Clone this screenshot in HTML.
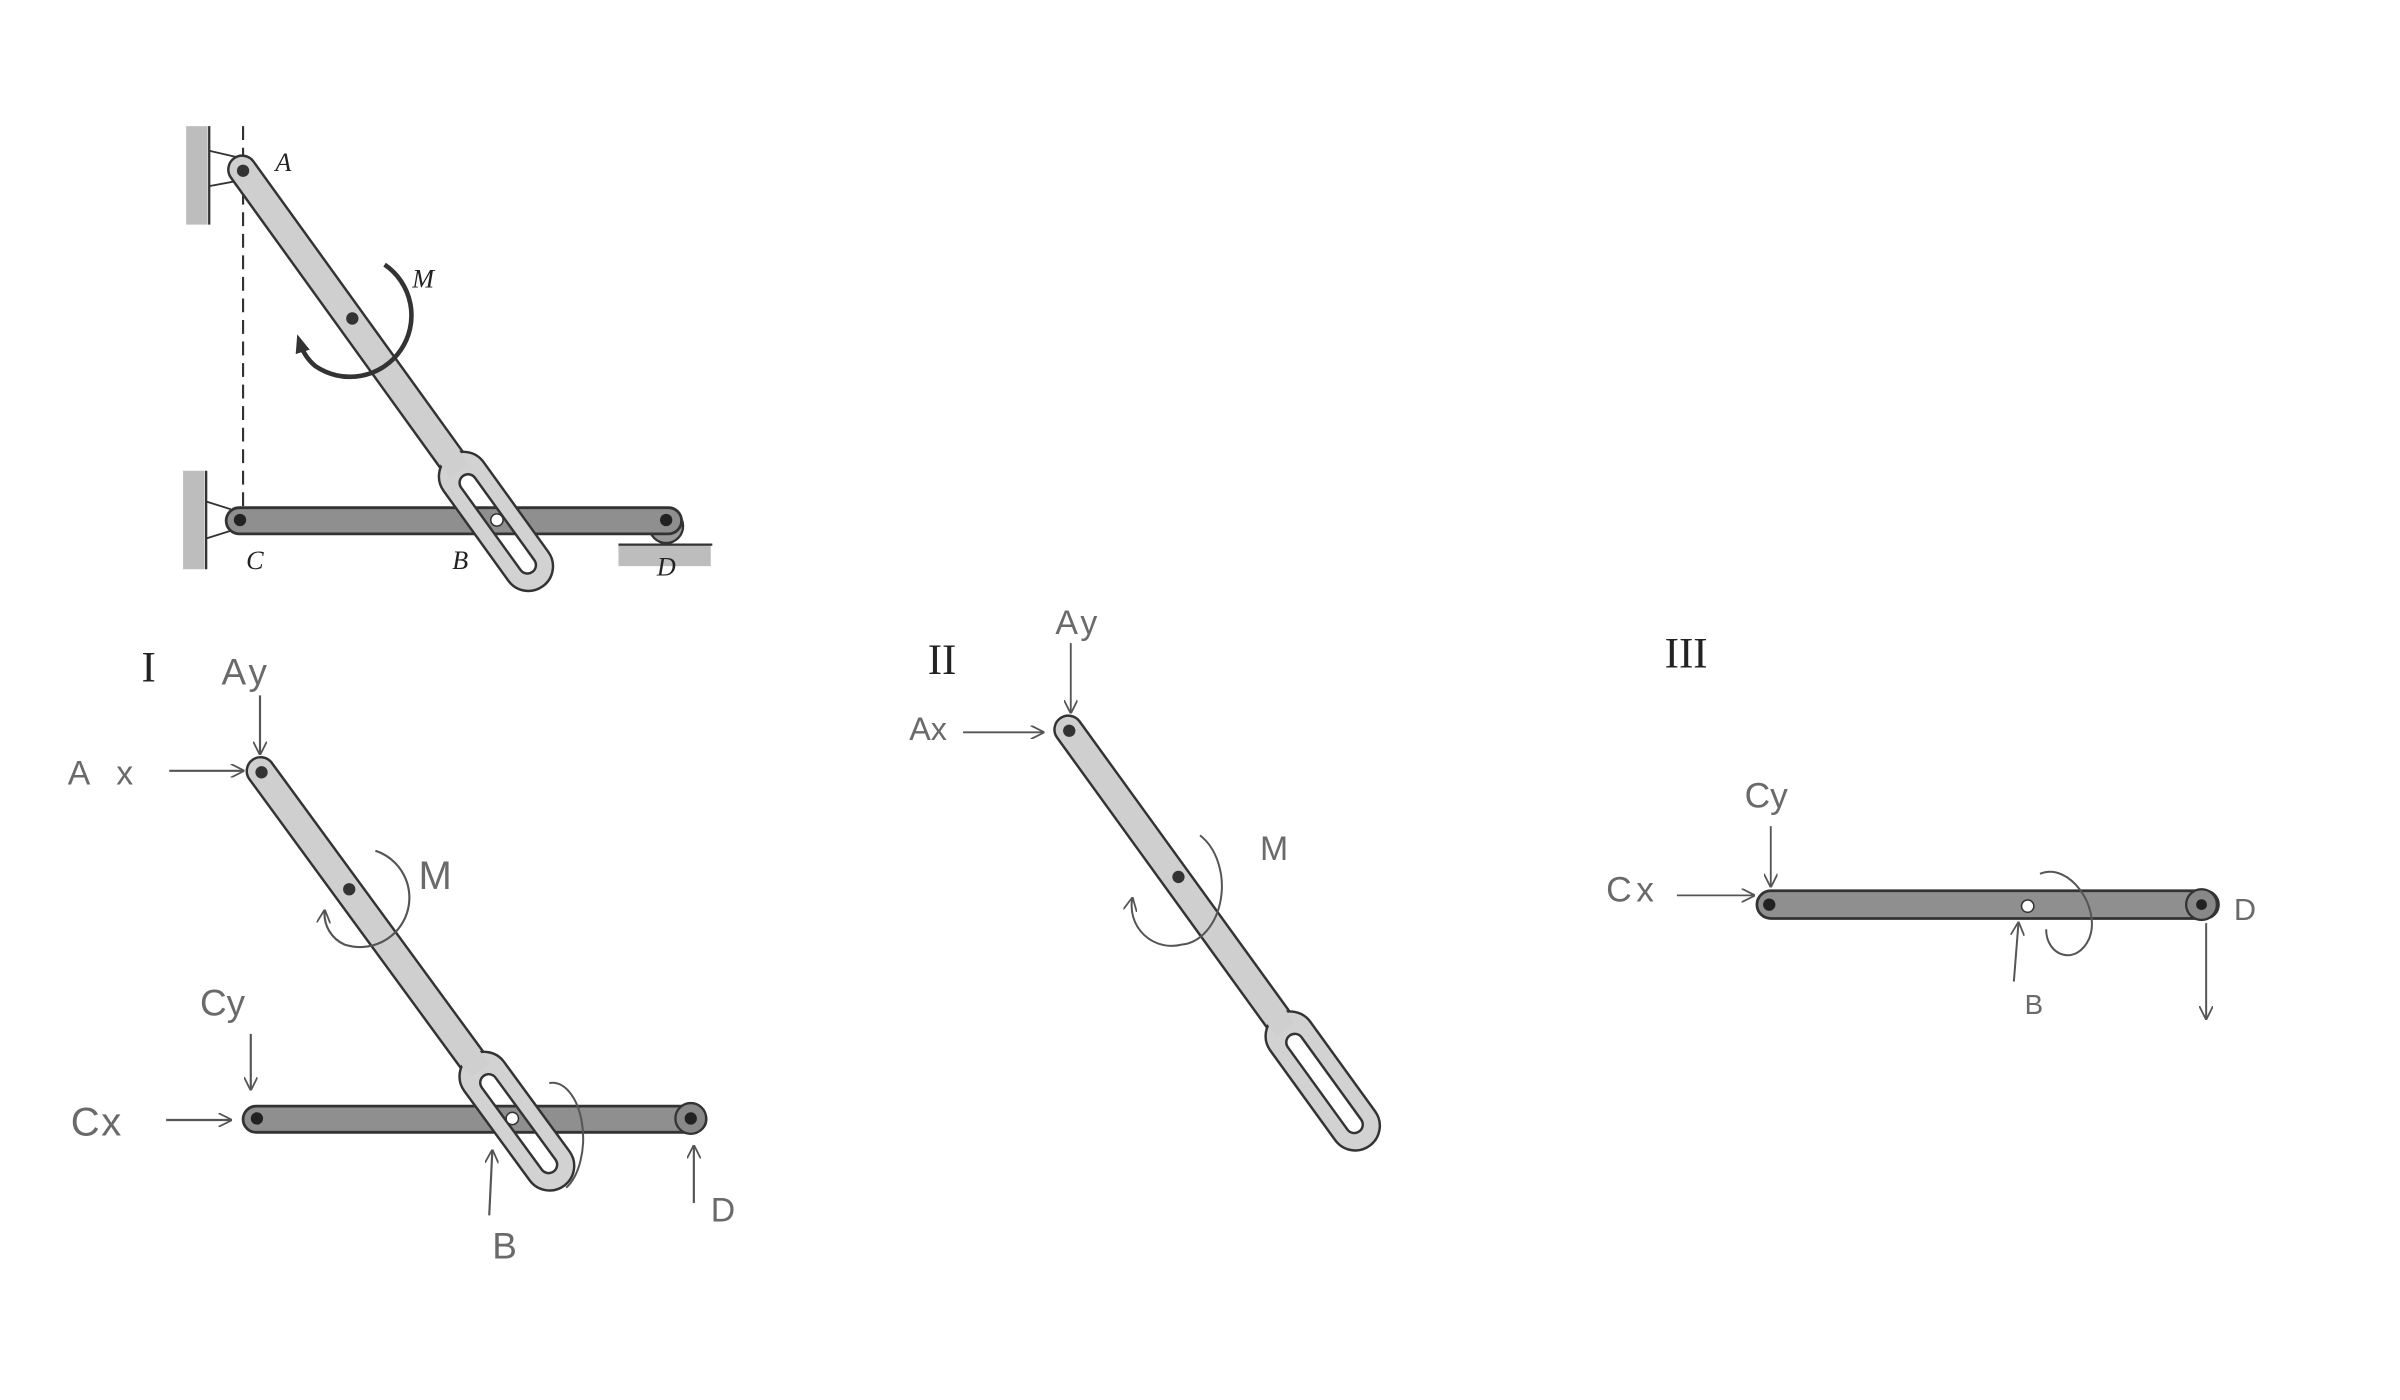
<!DOCTYPE html>
<html><head><meta charset="utf-8"><style>
html,body{margin:0;padding:0;background:#fff;}
svg{display:block;}
.h{font-family:"Liberation Sans",sans-serif;fill:#6a6a6a;font-weight:normal;}
.r{font-family:"Liberation Serif",serif;fill:#222;}
.it{font-family:"Liberation Serif",serif;font-style:italic;fill:#222;}
</style></head><body>
<svg width="2400" height="1400" viewBox="0 0 1560 910" preserveAspectRatio="none" xmlns="http://www.w3.org/2000/svg">
<defs>
<marker id="ah" viewBox="0 0 10 10" refX="9" refY="5" markerWidth="9" markerHeight="9" orient="auto" markerUnits="userSpaceOnUse">
<path d="M0,0 L10,5 L0,10" fill="none" stroke="#555" stroke-width="1.3"/></marker>
<marker id="ah2" viewBox="0 0 10 10" refX="5" refY="5" markerWidth="12" markerHeight="12" orient="auto" markerUnits="userSpaceOnUse">
<path d="M0,1 L10,5 L0,9 Z" fill="#333"/></marker>
<g id="link">
<rect x="-10" y="-9" width="250" height="18" rx="9" fill="#cfcfcf" stroke="#333" stroke-width="1.6"/>
<path d="M245,-16 H317 A16,16 0 0 1 317,16 H245 A16,16 0 0 1 245,-16 Z M250,-5.5 H316 A5.5,5.5 0 0 1 316,5.5 H250 A5.5,5.5 0 0 1 250,-5.5 Z" fill-rule="evenodd" fill="#d2d2d2" stroke="#333" stroke-width="1.6"/>
<rect x="222" y="-7.5" width="18" height="15" fill="#cfcfcf"/>
<circle cx="0" cy="0" r="4" fill="#333"/>
</g>
</defs>

<!-- ===== Top original figure ===== -->
<rect x="121" y="82" width="14" height="64" fill="#bdbdbd"/>
<line x1="136" y1="82" x2="136" y2="146" stroke="#333" stroke-width="1.5"/>
<rect x="119" y="306" width="14" height="64" fill="#bdbdbd"/>
<line x1="134" y1="306" x2="134" y2="370" stroke="#333" stroke-width="1.5"/>
<polyline points="136,98 162,104" stroke="#333" fill="none" stroke-width="1.2"/>
<polyline points="136,121 152,118" stroke="#333" fill="none" stroke-width="1.2"/>
<polyline points="134,326 150,331" stroke="#333" fill="none" stroke-width="1.2"/>
<polyline points="134,350 150,345" stroke="#333" fill="none" stroke-width="1.2"/>
<line x1="158" y1="82" x2="158" y2="330" stroke="#333" stroke-width="1.4" stroke-dasharray="9,5"/>
<rect x="402" y="354" width="60" height="14" fill="#bdbdbd"/>
<line x1="402" y1="354" x2="463" y2="354" stroke="#333" stroke-width="1.5"/>
<circle cx="433" cy="342" r="11" fill="#9a9a9a" stroke="#333" stroke-width="1.5"/>
<rect x="147" y="330" width="296" height="17" rx="8.5" fill="#8f8f8f" stroke="#333" stroke-width="1.8"/>
<circle cx="156" cy="338" r="4" fill="#222"/><circle cx="433" cy="338" r="4" fill="#222"/>
<use href="#link" transform="translate(158,111) rotate(54.2)"/>
<circle cx="229" cy="207" r="4" fill="#333"/>
<circle cx="323" cy="338" r="4" fill="#fff" stroke="#333"/>
<path d="M250,172 A32,32 0 0 1 205,238 A32,32 0 0 1 195,223" fill="none" stroke="#333" stroke-width="3" marker-end="url(#ah2)"/>
<text class="it" x="179" y="111" font-size="17">A</text>
<text class="it" x="268" y="187" font-size="17">M</text>
<text class="it" x="160" y="370" font-size="17">C</text>
<text class="it" x="294" y="370" font-size="17">B</text>
<text class="it" x="427" y="374" font-size="17">D</text>

<!-- ===== I ===== -->
<text class="r" x="92" y="443" font-size="28">I</text>
<text class="h" x="144" y="445" font-size="24" letter-spacing="2">Ay</text>
<line x1="169" y1="452" x2="169" y2="490" stroke="#555" stroke-width="1.4" marker-end="url(#ah)"/>
<text class="h" x="44" y="510" font-size="22" letter-spacing="6">A x</text>
<line x1="110" y1="501" x2="158" y2="501" stroke="#555" stroke-width="1.4" marker-end="url(#ah)"/>
<rect x="158" y="719" width="301" height="17" rx="8.5" fill="#8f8f8f" stroke="#333" stroke-width="1.8"/>
<circle cx="449" cy="727" r="10" fill="#888" stroke="#333" stroke-width="1.5"/>
<circle cx="167" cy="727" r="4" fill="#222"/><circle cx="449" cy="727" r="4" fill="#222"/>
<use href="#link" transform="translate(170,502) rotate(53.8)"/>
<circle cx="227" cy="578" r="4" fill="#333"/>
<circle cx="333" cy="727" r="4" fill="#fff" stroke="#333"/>
<path d="M244,553 A30,30 0 0 1 224,614 A22,22 0 0 1 211,592" fill="none" stroke="#555" stroke-width="1.4" marker-end="url(#ah)"/>
<text class="h" x="272" y="578" font-size="26">M</text>
<text class="h" x="130" y="660" font-size="24">Cy</text>
<line x1="163" y1="672" x2="163" y2="708" stroke="#555" stroke-width="1.4" marker-end="url(#ah)"/>
<text class="h" x="46" y="738" font-size="26" letter-spacing="1">Cx</text>
<line x1="108" y1="728" x2="150" y2="728" stroke="#555" stroke-width="1.4" marker-end="url(#ah)"/>
<path d="M357,704 A20,36 0 0 1 368,772" fill="none" stroke="#555" stroke-width="1.3"/>
<line x1="318" y1="790" x2="320" y2="748" stroke="#555" stroke-width="1.4" marker-end="url(#ah)"/>
<text class="h" x="320" y="818" font-size="24">B</text>
<line x1="451" y1="782" x2="451" y2="745" stroke="#555" stroke-width="1.4" marker-end="url(#ah)"/>
<text class="h" x="462" y="794" font-size="22">D</text>

<!-- ===== II ===== -->
<text class="r" x="603" y="438" font-size="28">II</text>
<text class="h" x="686" y="412" font-size="22" letter-spacing="2">Ay</text>
<line x1="696" y1="418" x2="696" y2="463" stroke="#555" stroke-width="1.2" marker-end="url(#ah)"/>
<text class="h" x="591" y="481" font-size="21">Ax</text>
<line x1="626" y1="476" x2="678" y2="476" stroke="#555" stroke-width="1.2" marker-end="url(#ah)"/>
<use href="#link" transform="translate(695,475) rotate(54.1)"/>
<circle cx="766" cy="570" r="4" fill="#333"/>
<path d="M780,543 A28,38 0 0 1 768,614 A26,26 0 0 1 736,584" fill="none" stroke="#555" stroke-width="1.3" marker-end="url(#ah)"/>
<text class="h" x="819" y="559" font-size="22">M</text>

<!-- ===== III ===== -->
<text class="r" x="1082" y="434" font-size="28">III</text>
<text class="h" x="1134" y="525" font-size="23">Cy</text>
<line x1="1151" y1="537" x2="1151" y2="576" stroke="#555" stroke-width="1.2" marker-end="url(#ah)"/>
<text class="h" x="1044" y="586" font-size="23" letter-spacing="3">Cx</text>
<line x1="1090" y1="582" x2="1140" y2="582" stroke="#555" stroke-width="1.2" marker-end="url(#ah)"/>
<rect x="1142" y="579" width="300" height="18" rx="9" fill="#8f8f8f" stroke="#333" stroke-width="1.8"/>
<circle cx="1431" cy="588" r="10" fill="#888" stroke="#333" stroke-width="1.5"/>
<circle cx="1150" cy="588" r="4" fill="#222"/><circle cx="1431" cy="588" r="3.5" fill="#222"/>
<circle cx="1318" cy="589" r="4" fill="#fff" stroke="#333"/>
<path d="M1326,568 C1345,560 1366,590 1358,610 C1350,628 1330,622 1330,604" fill="none" stroke="#555" stroke-width="1.3"/>
<line x1="1309" y1="638" x2="1312" y2="600" stroke="#555" stroke-width="1.3" marker-end="url(#ah)"/>
<text class="h" x="1316" y="659" font-size="18">B</text>
<line x1="1434" y1="600" x2="1434" y2="662" stroke="#555" stroke-width="1.3" marker-end="url(#ah)"/>
<text class="h" x="1452" y="598" font-size="20">D</text>
</svg>
</body></html>
